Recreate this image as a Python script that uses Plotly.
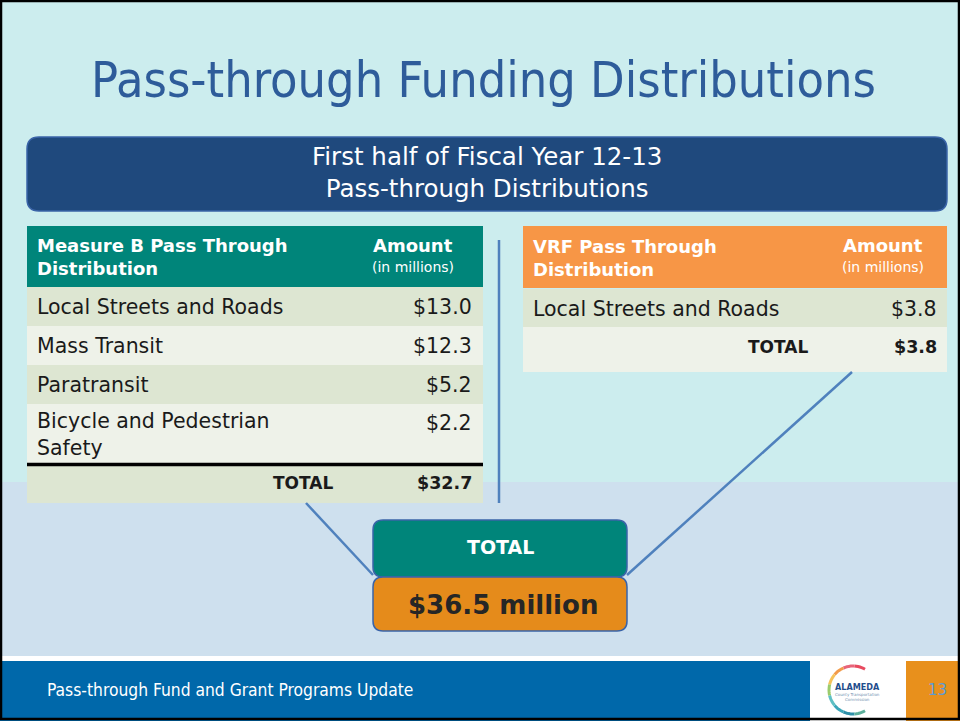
import math
import plotly.graph_objects as go

# slide data
measure_b_items = ["Local Streets and Roads", "Mass Transit", "Paratransit",
                   "Bicycle and Pedestrian<br>Safety"]
measure_b_amounts = [13.0, 12.3, 5.2, 2.2]
measure_b_total = 32.7
vrf_items = ["Local Streets and Roads"]
vrf_amounts = [3.8]
vrf_total = 3.8
grand_total = 36.5

TITLE = "Pass-through Funding Distributions"
BANNER = "First half of Fiscal Year 12-13<br>Pass-through Distributions"
FOOTER = "Pass-through Fund and Grant Programs Update"
PAGE = "13"

BODY = "DejaVu Sans, Verdana, sans-serif"
NARROW = "Liberation Sans Narrow, DejaVu Sans Condensed, sans-serif"
ROW_DARK = "#DDE6D2"
ROW_LIGHT = "#EEF2E9"
TEAL = "#00857A"
ORANGE = "#F79646"
LINE_BLUE = "#4F81BD"

fig = go.Figure()
shapes = []
ann = []


def rect(x0, y0, x1, y1, fill, line=None, lw=0):
    shapes.append(dict(type="rect", x0=x0, y0=y0, x1=x1, y1=y1, fillcolor=fill,
                       line=dict(color=line or fill, width=lw), layer="below"))


def rounded(x0, y0, x1, y1, r, fill, line, lw=1.5):
    p = (f"M {x0+r},{y0} L {x1-r},{y0} Q {x1},{y0} {x1},{y0+r} "
         f"L {x1},{y1-r} Q {x1},{y1} {x1-r},{y1} L {x0+r},{y1} "
         f"Q {x0},{y1} {x0},{y1-r} L {x0},{y0+r} Q {x0},{y0} {x0+r},{y0} Z")
    shapes.append(dict(type="path", path=p, fillcolor=fill,
                       line=dict(color=line, width=lw), layer="below"))


def text(x, y, s, size, color="#1a1a1a", family=BODY, xanchor="left", bold=False):
    if bold:
        s = f"<b>{s}</b>"
    ann.append(dict(x=x, y=y, text=s, showarrow=False, xanchor=xanchor,
                    yanchor="middle", align=xanchor if xanchor != "center" else "center",
                    font=dict(size=size, color=color, family=family)))


# backgrounds
rect(0, 0, 960, 482, "#CCEDEE")
rect(0, 482, 960, 656, "#CEE0EE")
rect(0, 656, 960, 661, "#FFFFFF")
rect(0, 661, 960, 721, "#0068AA")
rect(810, 661, 906, 721, "#FFFFFF")
rect(906, 661, 960, 721, "#E8901C")

# title and banner
text(483, 80, TITLE, 50, "#2E5C9A", NARROW, "center")
rounded(27, 137, 947, 211, 12, "#1F497D", "#3A64A8")
text(487, 172, BANNER, 24.5, "#FFFFFF", BODY, "center")

# connector lines
shapes.append(dict(type="line", x0=499, y0=240, x1=499, y1=503,
                   line=dict(color=LINE_BLUE, width=2.5)))
shapes.append(dict(type="line", x0=306, y0=503, x1=373, y1=575,
                   line=dict(color=LINE_BLUE, width=2.5)))
shapes.append(dict(type="line", x0=852, y0=372, x1=627, y1=575,
                   line=dict(color=LINE_BLUE, width=2.5)))

# left table (Measure B)
lx0, lx1, lval, lamt = 27, 483, 474, 413
rect(lx0, 226, lx1, 287, TEAL)
text(35, 257, "Measure B Pass Through<br>Distribution", 18, "#FFFFFF", BODY, "left", True)
text(lamt, 245, "Amount", 18, "#FFFFFF", BODY, "center", True)
text(lamt, 267, "(in millions)", 14, "#FFFFFF", BODY, "center")
bounds = [287, 326, 365, 404, 463]
for i, (name, amt) in enumerate(zip(measure_b_items, measure_b_amounts)):
    y0, y1 = bounds[i], bounds[i + 1]
    rect(lx0, y0, lx1, y1, ROW_DARK if i % 2 == 0 else ROW_LIGHT)
    ym = (y0 + y1) / 2 if "<br>" not in name else y0 + 30
    text(35, ym, name, 20.5)
    text(lval, (y0 + 19) if "<br>" in name else ym, f"${amt:.1f}", 20.5, xanchor="right")
rect(lx0, 466, lx1, 503, ROW_DARK)
shapes.append(dict(type="line", x0=lx0, y0=464.5, x1=lx1, y1=464.5,
                   line=dict(color="#000000", width=3.5)))
text(335, 483, "TOTAL", 17, xanchor="right", bold=True)
text(lval, 483, f"${measure_b_total:.1f}", 17.5, xanchor="right", bold=True)

# right table (VRF)
rx0, rx1, rval, ramt = 523, 947, 939, 883
rect(rx0, 226, rx1, 288, ORANGE)
text(531, 258, "VRF Pass Through<br>Distribution", 18, "#FFFFFF", BODY, "left", True)
text(ramt, 245, "Amount", 18, "#FFFFFF", BODY, "center", True)
text(ramt, 267, "(in millions)", 14, "#FFFFFF", BODY, "center")
rb = [289, 327]
for i, (name, amt) in enumerate(zip(vrf_items, vrf_amounts)):
    rect(rx0, rb[i], rx1, rb[i] + 38, ROW_DARK)
    text(531, rb[i] + 20, name, 20.5)
    text(rval, rb[i] + 20, f"${amt:.1f}", 20.5, xanchor="right")
rect(rx0, 327, rx1, 372, ROW_LIGHT)
text(810, 347, "TOTAL", 17, xanchor="right", bold=True)
text(rval, 347, f"${vrf_total:.1f}", 17.5, xanchor="right", bold=True)

# grand total boxes
rounded(373, 520, 627, 577, 10, TEAL, "#3A64A8")
text(500, 547, "TOTAL", 19, "#FFFFFF", BODY, "center", True)
rounded(373, 577, 627, 631, 10, "#E58B1B", "#3A64A8")
text(503, 605, f"${grand_total:.1f} million", 26, "#262626", BODY, "center", True)

# footer
text(45, 690, FOOTER, 17.3, "#FFFFFF", NARROW)
text(937, 690, PAGE, 15, "#5B9BD5", BODY, "center")

# logo: ring of coloured strokes around the name
cx, cy, r = 853, 690, 24
arc_colors = ["#E84A5F", "#E8657A", "#F29B4B", "#F6C25A", "#9BCB6B",
              "#5FC0C4", "#3AA6B9", "#2E8FA8", "#5BAF9B"]
start, stop = -60, -300
step = (stop - start) / len(arc_colors)
for k, col in enumerate(arc_colors):
    a0 = math.radians(start + k * step)
    a1 = math.radians(start + (k + 1) * step)
    pts = [(cx + r * math.cos(a0 + (a1 - a0) * t / 6),
            cy + r * math.sin(a0 + (a1 - a0) * t / 6)) for t in range(7)]
    path = "M " + " L ".join(f"{px:.1f},{py:.1f}" for px, py in pts)
    shapes.append(dict(type="path", path=path, line=dict(color=col, width=3)))
text(857, 687, "ALAMEDA", 9, "#1F4E8C", NARROW, "center", True)
text(857, 697, "County Transportation<br>Commission", 4, "#6F8FB0", BODY, "center")

# slide border
shapes.append(dict(type="rect", x0=1, y0=1, x1=959, y1=719,
                   line=dict(color="#000000", width=2.5), fillcolor="rgba(0,0,0,0)"))

fig.update_layout(
    width=960, height=721,
    margin=dict(l=0, r=0, t=0, b=0),
    paper_bgcolor="#CCEDEE", plot_bgcolor="#CCEDEE",
    shapes=shapes, annotations=ann, showlegend=False,
    xaxis=dict(range=[0, 960], visible=False, fixedrange=True),
    yaxis=dict(range=[721, 0], visible=False, fixedrange=True),
)
# the page's default 8px body margin would shift the slide off the window
fig.write_html("out.html", config={"displayModeBar": False},
               post_script="document.body.style.margin='0';"
               "document.body.style.overflow='hidden';")
